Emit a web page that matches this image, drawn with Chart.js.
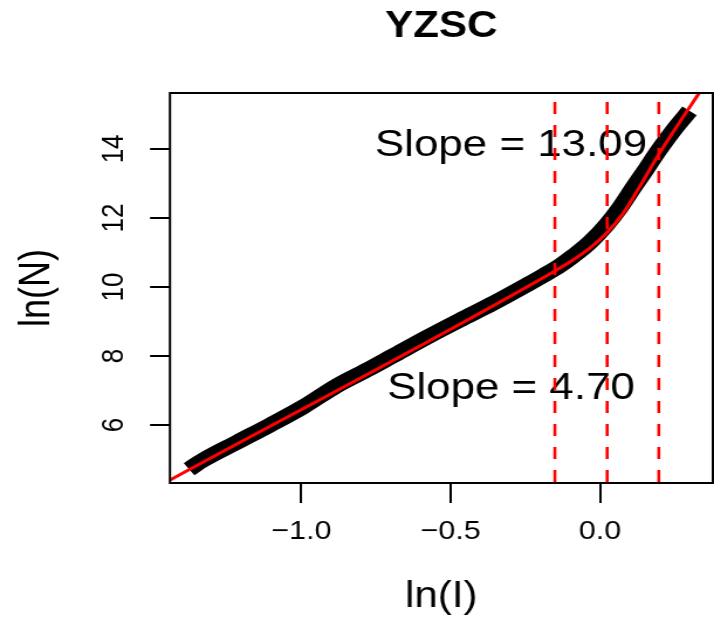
<!DOCTYPE html>
<html><head><meta charset="utf-8">
<script src="https://cdn.jsdelivr.net/npm/chart.js@4.4.1/dist/chart.umd.min.js"></script>
<style>
html,body{margin:0;padding:0;background:#fff;overflow:hidden;}
#wrap{width:610px;height:619px;transform:scaleX(1.1705);transform-origin:0 0;}
canvas{display:block;}
</style></head><body>
<div id="wrap"><canvas id="c" width="610" height="619"></canvas></div>
<script>
const chartTitle = 'YZSC';
const xAxisTitle = 'ln(I)';
const yAxisTitle = 'ln(N)';
const xTickValues = [-1.0, -0.5, 0.0];
const xTickLabels = ['\u22121.0', '\u22120.5', '0.0'];
const yTickValues = [6, 8, 10, 12, 14];
const yTickLabels = ['6', '8', '10', '12', '14'];
const xRange = [-1.44, 0.378];
const yRange = [4.32, 15.62];

const observedLnI = [-1.376, -1.328, -1.216, -1.105, -0.993, -0.881, -0.770, -0.692, -0.580, -0.469, -0.357, -0.245, -0.190, -0.134, -0.089, -0.033, 0.022, 0.067, 0.112, 0.155, 0.196, 0.250, 0.300];
const observedLnN = [4.72, 4.99, 5.50, 6.00, 6.53, 7.14, 7.64, 8.01, 8.54, 9.04, 9.53, 10.06, 10.33, 10.62, 10.90, 11.30, 11.80, 12.30, 12.88, 13.42, 13.95, 14.58, 15.10];

const fitLnI = [-1.44, -0.151, -0.089, -0.033, 0.023, 0.078, 0.134, 0.196, 0.36];
const fitLnN = [4.406, 10.464, 10.79, 11.13, 11.57, 12.14, 12.92, 13.83, 15.98];

const breakpoints = [-0.151, 0.024, 0.197];
const slopeLabels = ['Slope = 13.09', 'Slope = 4.70'];
const slopeLabelX = [-0.298, -0.298];
const slopeLabelY = [14.08, 7.04];

const FONT = '"Liberation Sans", Arial, sans-serif';
const toPts = (xs, ys) => xs.map((v, i) => ({x: v, y: ys[i]}));

const datasets = [
  {
    data: toPts(observedLnI, observedLnN),
    showLine: true, borderColor: '#000', borderWidth: 15, pointRadius: 0,
    borderCapStyle: 'butt', borderJoinStyle: 'round', cubicInterpolationMode: 'monotone',
    order: 3
  },
  {
    data: toPts(fitLnI, fitLnN),
    showLine: true, borderColor: '#ff0000', borderWidth: 3, pointRadius: 0,
    cubicInterpolationMode: 'monotone', clip: 0, order: 2
  }
];
breakpoints.forEach(b => datasets.push({
  data: [{x: b, y: yRange[1]}, {x: b, y: yRange[0]}],
  showLine: true, borderColor: '#ff0000', borderWidth: 2.6, pointRadius: 0,
  borderDash: [12, 11], borderDashOffset: 14, clip: 0, order: 1
}));

const overlay = {
  id: 'overlay',
  beforeDatasetsDraw(chart) {
    const {ctx, chartArea: a, scales: {x, y}} = chart;
    ctx.save();
    ctx.fillStyle = '#000';
    ctx.textAlign = 'center';
    ctx.textBaseline = 'middle';
    ctx.font = 'bold 36px ' + FONT;
    ctx.fillText(chartTitle, (a.left + a.right) / 2, 27);
    ctx.font = '37.5px ' + FONT;
    slopeLabels.forEach((t, i) => ctx.fillText(t, x.getPixelForValue(slopeLabelX[i]), y.getPixelForValue(slopeLabelY[i])));
    ctx.restore();
  },
  afterDraw(chart) {
    const {ctx, chartArea: a} = chart;
    ctx.save();
    ctx.strokeStyle = '#000';
    ctx.lineWidth = 2;
    ctx.strokeRect(a.left, a.top, a.right - a.left, a.bottom - a.top);
    ctx.restore();
  }
};

new Chart(document.getElementById('c'), {
  type: 'scatter',
  data: {datasets},
  plugins: [overlay],
  options: {
    responsive: false,
    animation: false,
    devicePixelRatio: 1,
    layout: {padding: {top: 93, right: 1, left: 0, bottom: 0}},
    plugins: {
      legend: {display: false},
      tooltip: {enabled: false},
      title: {display: false}
    },
    scales: {
      x: {
        type: 'linear', position: 'bottom', min: xRange[0], max: xRange[1],
        afterBuildTicks: s => { s.ticks = xTickValues.map(v => ({value: v})); },
        afterFit: s => { s.height = 136; },
        ticks: {
          padding: 13, color: '#000', font: {family: FONT, size: 26},
          maxRotation: 0, minRotation: 0, autoSkip: false,
          callback: v => xTickLabels[xTickValues.indexOf(v)]
        },
        grid: {drawOnChartArea: false, tickLength: 20, lineWidth: 2, color: '#000'},
        border: {display: false},
        title: {display: true, text: xAxisTitle, color: '#000', font: {family: FONT, size: 36}, padding: {top: 0, bottom: 0}}
      },
      y: {
        type: 'linear', position: 'left', min: yRange[0], max: yRange[1],
        afterBuildTicks: s => { s.ticks = yTickValues.map(v => ({value: v})); },
        afterFit: s => { s.width = 145.2; },
        ticks: {
          padding: 16, color: '#000', font: {family: FONT, size: 26},
          minRotation: 90, maxRotation: 90, crossAlign: 'center', autoSkip: false,
          callback: v => yTickLabels[yTickValues.indexOf(v)]
        },
        grid: {drawOnChartArea: false, tickLength: 17, lineWidth: 2, color: '#000'},
        border: {display: false},
        title: {display: true, text: yAxisTitle, color: '#000', font: {family: FONT, size: 36}, padding: {top: 10.5, bottom: 0}}
      }
    }
  }
});
</script>
</body></html>
